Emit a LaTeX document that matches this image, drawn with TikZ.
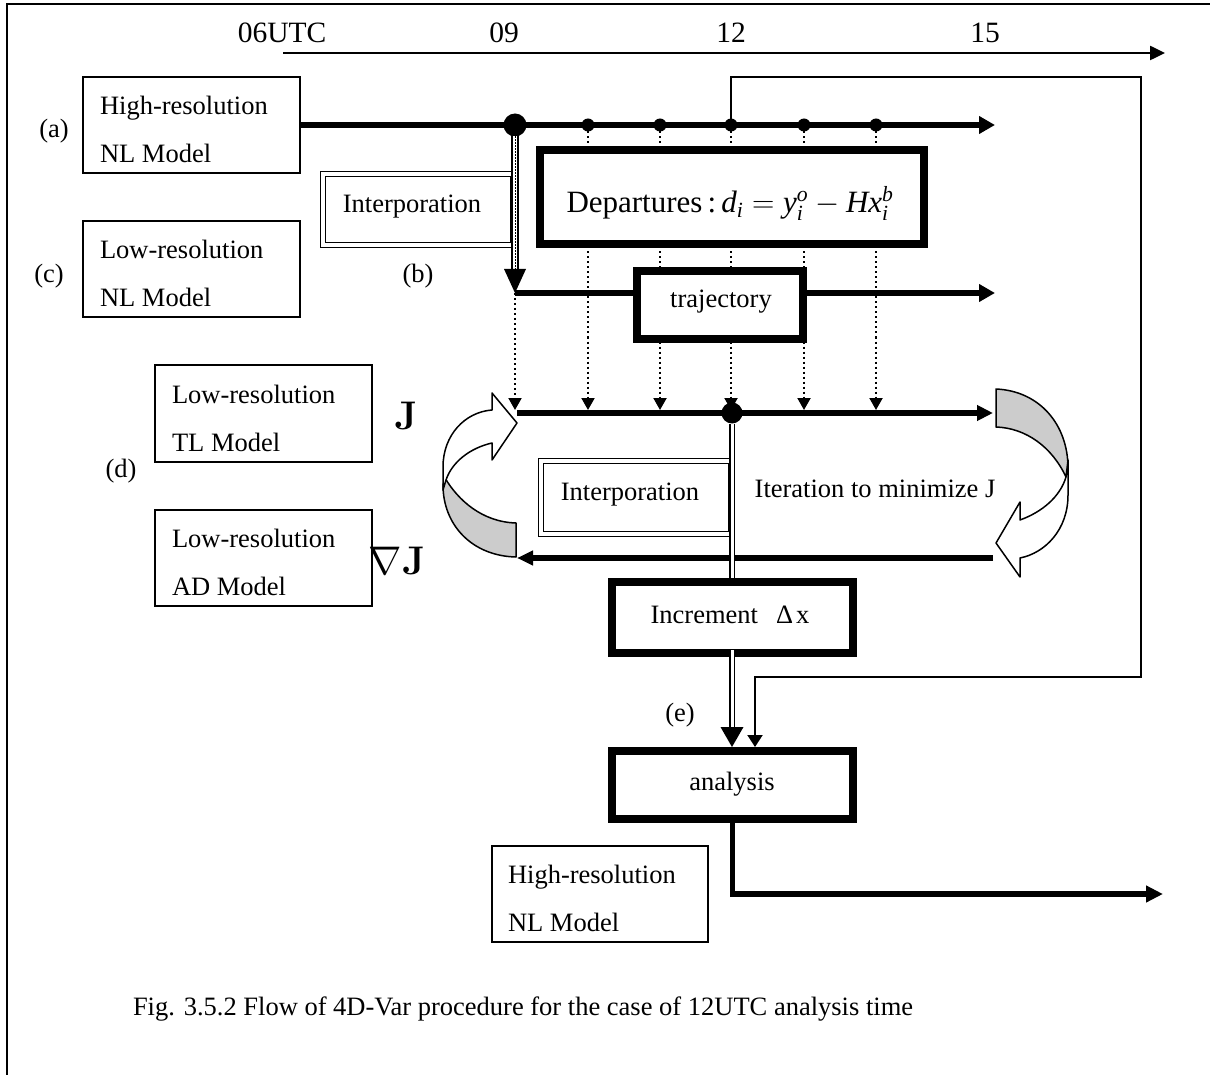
\RequirePackage{fix-cm}
\documentclass[tikz,border=0pt]{standalone}
\usepackage{amsmath}
\usepackage[no-math]{fontspec}
\setmainfont{Liberation Serif}
\usetikzlibrary{arrows.meta}
\newcommand\vv[1]{\text{\itshape #1}}
\begin{document}
\begin{tikzpicture}[x=1pt,y=-1pt,
 every node/.style={inner sep=0pt,outer sep=0pt},
 txt/.style={font=\fontsize{26.5}{30}\selectfont},
 tlab/.style={font=\fontsize{29.5}{32}\selectfont},
 thinbox/.style={draw,line width=1.5pt,fill=white,rectangle},
 thickbox/.style={draw,line width=8pt,fill=white,rectangle},
 dblbox/.style={draw,double,double distance=4pt,line width=1.3pt,fill=white,rectangle},
 heavy/.style={line width=5.5pt},
 obs/.style={line width=2pt,dash pattern=on 2pt off 3pt,-{Triangle[length=12pt,width=13pt]}},
 dotbig/.style={circle,fill=black,minimum size=23pt},
 dotsmall/.style={circle,fill=black,minimum size=13pt},
 curvw/.style={draw,line width=1.5pt,fill=white,line join=round},
 curvg/.style={draw,line width=1.5pt,fill=black!20,line join=round},
]
\useasboundingbox (0,0) rectangle (1210,1075);
% frame
\draw[line width=2pt] (7,1075) -- (7,4) -- (1210,4);
% timeline
\coordinate (t0) at (283,53);
\coordinate (t1) at (1165,53);
\draw[line width=2.5pt,-{Triangle[length=15pt,width=14pt]}] (t0) -- (t1);
\node[tlab,anchor=base] (l06) at (282,43) {06UTC};
\node[tlab,anchor=base] (l09) at (504,43) {09};
\node[tlab,anchor=base] (l12) at (731,43) {12};
\node[tlab,anchor=base] (l15) at (985,43) {15};
% thin boxes
\node[thinbox,minimum width=217pt,minimum height=96pt] (boxA) at (191.5,125) {};
\node[thinbox,minimum width=217pt,minimum height=96pt] (boxC) at (191.5,269) {};
\node[thinbox,minimum width=217pt,minimum height=97pt] (boxTL) at (263.5,413.5) {};
\node[thinbox,minimum width=217pt,minimum height=96pt] (boxAD) at (263.5,558) {};
\node[thinbox,minimum width=216pt,minimum height=96pt] (boxHR) at (600,894) {};
% dots
\node[dotbig] (d0) at (515,125) {};
\node[dotsmall] (d1) at (588,125) {};
\node[dotsmall] (d2) at (660,125) {};
\node[dotsmall] (d3) at (731,125) {};
\node[dotsmall] (d4) at (804,125) {};
\node[dotsmall] (d5) at (876,125) {};
\node[circle,fill=black,minimum size=21pt] (jd) at (732,413) {};
% coordinates
\coordinate (aEnd) at (995,125);
\coordinate (c0) at (515,293);
\coordinate (cEnd) at (995,293);
\coordinate (j0) at (517,413);
\coordinate (j1) at (993,413);
\coordinate (g0) at (993,558);
\coordinate (g1) at (517,558);
\coordinate (o0) at (515,410);
\coordinate (o1) at (588,410);
\coordinate (o2) at (660,410);
\coordinate (o3) at (731,410);
\coordinate (o4) at (804,410);
\coordinate (o5) at (876,410);
\coordinate (lp1) at (731,77);
\coordinate (lp2) at (1141,77);
\coordinate (lp3) at (1141,677);
\coordinate (lp4) at (755,677);
\coordinate (lpEnd) at (755,747);
% lines
\draw[heavy,-{Triangle[length=16pt,width=17pt]}] (boxA.east) -- (aEnd);
\draw[line width=2pt,-{Triangle[length=12pt,width=15pt]}] (d3.center) -- (lp1) -- (lp2) -- (lp3) -- (lp4) -- (lpEnd);
\draw[obs] (c0) -- (o0);
\draw[obs] (d1) -- (o1);
\draw[obs] (d2) -- (o2);
\draw[obs] (d3) -- (o3);
\draw[obs] (d4) -- (o4);
\draw[obs] (d5) -- (o5);
\draw[heavy,-{Triangle[length=16pt,width=17pt]}] (c0) -- (cEnd);
\draw[heavy,-{Triangle[length=16pt,width=15pt]}] (j0) -- (j1);
\draw[heavy,-{Triangle[length=16pt,width=14pt]}] (g0) -- (g1);
% interpolation boxes
\node[dblbox,minimum width=190pt,minimum height=71pt] (ipB) at (418,209.5) {};
\node[dblbox,minimum width=190pt,minimum height=73pt] (ipD) at (636,497.5) {};
% double arrow at 09
\draw[line width=8pt] (d0.center) -- ([yshift=22pt]c0);
\draw[white,line width=3.5pt] (d0.south) -- ([yshift=24pt]c0);
\draw[line width=1pt,dash pattern=on 1.5pt off 1.5pt] (d0.south) -- ([yshift=24pt]c0);
\fill (c0) -- ++(-11,-24) -- ++(22,0) -- cycle;
% thick boxes
\node[thickbox,minimum width=384pt,minimum height=94pt] (dep) at (732,197) {};
\node[thickbox,minimum width=166pt,minimum height=68pt] (traj) at (720,305) {};
% double line from J
\draw[double,double distance=3pt,line width=1.8pt] (jd.south) -- (732,590);
\node[thickbox,minimum width=241pt,minimum height=71pt] (incr) at (732.5,617.5) {};
\node[thickbox,minimum width=241pt,minimum height=68pt] (anal) at (732.5,785) {};
\draw[double,double distance=3pt,line width=1.8pt] (732,650) -- (732,728);
\fill (732,747) -- ++(-11.5,-20) -- ++(23,0) -- cycle;
% analysis output
\coordinate (outEnd) at (1163,894);
\draw[heavy,-{Triangle[length=17pt,width=16pt]}] (anal.south) |- (outEnd);
% curved arrows left
\filldraw[curvg] (516,557) .. controls (472,556) and (443,525) .. (443,485) -- (445,478) .. controls (458,500) and (482,522) .. (516,523) -- cycle;
\filldraw[curvw] (443,490) -- (443,467) .. controls (443,435) and (465,412) .. (492,410) -- (492,393) -- (517,423) -- (492,460) -- (492,443) .. controls (470,448) and (452,462) .. (446,480) -- cycle;
% curved arrows right
\filldraw[curvg] (996,389) .. controls (1040,391) and (1068,425) .. (1068,468) -- (1066,477) .. controls (1052,447) and (1026,428) .. (996,427) -- cycle;
\filldraw[curvw] (1068,460) -- (1068,495) .. controls (1068,530) and (1045,553) .. (1020,558) -- (1020,577) -- (996,543) -- (1020,502) -- (1020,520) .. controls (1042,512) and (1060,497) .. (1066,477) -- cycle;
% texts
\node[txt,anchor=base west] (tA1) at (100,115) {High-resolution};
\node[txt,anchor=base west] (tA2) at (100,163) {NL Model};
\node[txt,anchor=base west] (tC1) at (100,259) {Low-resolution};
\node[txt,anchor=base west] (tC2) at (100,307) {NL Model};
\node[txt,anchor=base west] (tT1) at (172,403) {Low-resolution};
\node[txt,anchor=base west] (tT2) at (172,451) {TL Model};
\node[txt,anchor=base west] (tD1) at (172,547) {Low-resolution};
\node[txt,anchor=base west] (tD2) at (172,595) {AD Model};
\node[txt,anchor=base west] (tH1) at (508,883) {High-resolution};
\node[txt,anchor=base west] (tH2) at (508,931) {NL Model};
\node[txt] (la) at (54,131) {(a)};
\node[txt] (lb) at (418,276) {(b)};
\node[txt] (lc) at (49,276) {(c)};
\node[txt] (ld) at (121,471) {(d)};
\node[txt] (le) at (680,715) {(e)};
\node[txt,anchor=base] (tIB) at (412,213) {Interporation};
\node[txt,anchor=base] (tID) at (630,500) {Interporation};
\node[txt,anchor=base] (tIt) at (875,497) {Iteration to minimize J};
\node[txt,anchor=base] (tTr) at (721,308) {trajectory};
\node[txt,anchor=base] (tIn) at (730,623) {Increment\hspace{18pt}Δ\hspace{3pt}x};
\node[txt,anchor=base] (tAn) at (732,790) {analysis};
\node[font=\fontsize{31}{34}\selectfont,anchor=base] (tDep) at (730,213) {Departures\,:\,$\vv{d}_{\vv{i}} = \vv{y}_{\vv{i}}^{\vv{o}} - \vv{H}\vv{x}_{\vv{i}}^{\vv{b}}$};
\node[font=\fontsize{40}{44}\selectfont] (lJ) at (406,416) {$\mathbf{J}$};
\node[font=\fontsize{40}{44}\selectfont] (lgJ) at (397,561) {$\nabla\mathbf{J}$};
\node[txt,anchor=base west] (cap) at (133,1015) {Fig. 3.5.2 Flow of 4D-Var procedure for the case of 12UTC analysis time};
\end{tikzpicture}
\end{document}
